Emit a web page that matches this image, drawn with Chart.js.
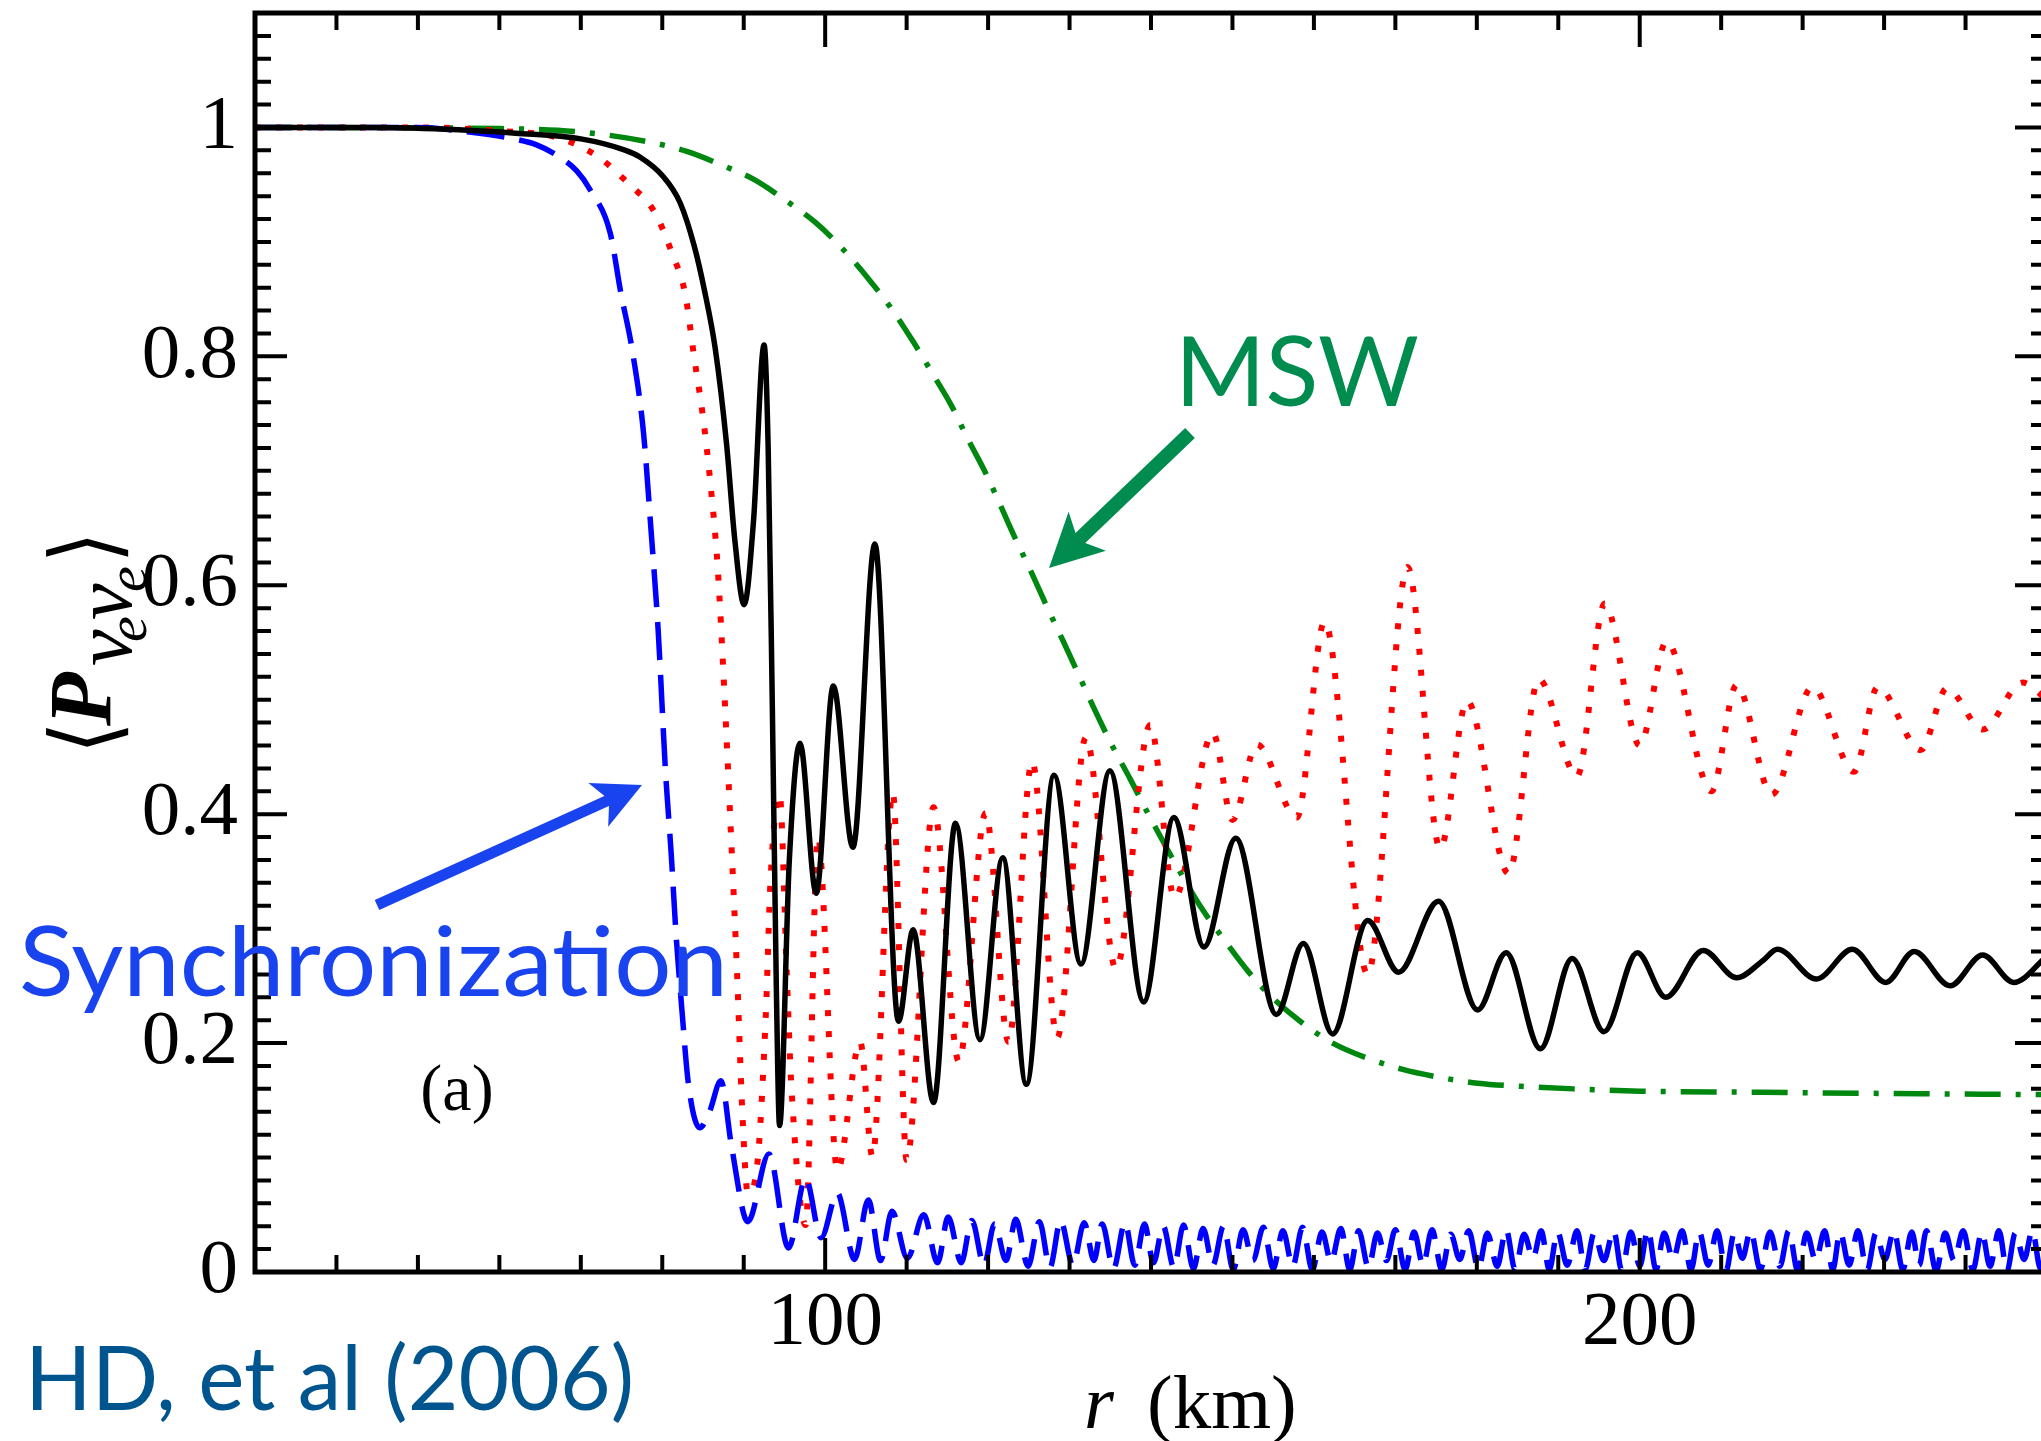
<!DOCTYPE html>
<html lang="en">

<head>
    <meta charset="UTF-8">
    <title>Survival probability vs radius</title>
    <script src="https://cdn.jsdelivr.net/npm/chart.js@4.4.1/dist/chart.umd.min.js"></script>
    <style>
        html, body { margin: 0; padding: 0; background: #fff; overflow: hidden; }
        #wrap { width: 2060px; height: 1441px; }
    </style>
</head>

<body>
    <div id="wrap"><canvas id="chart" width="2060" height="1441"></canvas></div>

    <script>
        // full calculation (black solid)
        var rFull = [30, 45, 55, 62, 70, 75.5, 77.3, 80.0, 82.2, 83.9, 85.2, 86.5, 87.9, 88.9, 90.05, 91.2, 92.5,
            93.0, 93.5, 94.0, 94.4, 95.6, 96.9, 98.9, 101.0, 103.4, 106.1, 109.0, 110.8, 113.3, 116.0, 119.0,
            121.8, 124.7, 128.1, 131.4, 134.95, 139.1, 142.8, 146.5, 150.4, 155.4, 158.7, 162.3, 166.6, 170.4,
            175.3, 180.1, 183.6, 187.8, 191.7, 195.6, 199.7, 203.2, 207.8, 211.9, 215.1, 216.9, 221.7, 226.1,
            230.2, 233.7, 238.1, 242.1, 245.9, 250];
        var pFull = [1.0, 1.0, 0.998, 0.995, 0.99, 0.98, 0.974, 0.958, 0.934, 0.897, 0.857, 0.807, 0.723, 0.640, 0.583, 0.656, 0.810,
            0.72, 0.50, 0.25, 0.128, 0.36, 0.462, 0.331, 0.512, 0.371, 0.636, 0.219, 0.299, 0.148, 0.392, 0.203,
            0.362, 0.164, 0.434, 0.269, 0.438, 0.236, 0.397, 0.284, 0.379, 0.225, 0.287, 0.208, 0.307, 0.262,
            0.324, 0.229, 0.279, 0.195, 0.274, 0.210, 0.279, 0.240, 0.281, 0.257, 0.272, 0.282, 0.256, 0.282,
            0.253, 0.280, 0.250, 0.277, 0.253, 0.276];

        // red dotted
        var rDot = [30, 50, 60, 67.2, 72.2, 76.6, 78.2, 79.5, 81.2, 82.8, 83.9, 85.0, 85.9, 86.8, 87.6, 88.5, 89.2, 89.8,
            90.5, 91.6, 92.7, 93.3, 94.4, 95.3, 95.8, 97.6, 99.1, 101.5, 104.3, 105.8, 108.3, 110.0, 113.3, 116.4,
            119.7, 122.5, 125.4, 128.5, 132.0, 135.7, 139.9, 142.9, 147.6, 150.0, 153.0, 157.9, 161.3, 166.6, 171.5,
            175.5, 178.8, 183.9, 187.6, 192.3, 195.7, 200.0, 203.3, 208.8, 211.9, 216.2, 221.2, 226.3, 229.2,
            234.5, 237.7, 242.1, 247.0, 250];
        var pDot = [1.0, 1.0, 0.997, 0.991, 0.974, 0.946, 0.935, 0.92, 0.89, 0.855, 0.80, 0.747, 0.690, 0.616, 0.510, 0.372, 0.258, 0.144,
            0.069, 0.09, 0.223, 0.344, 0.417, 0.258, 0.169, 0.041, 0.380, 0.089, 0.201, 0.101, 0.419, 0.098, 0.406, 0.184,
            0.401, 0.201, 0.446, 0.205, 0.467, 0.265, 0.478, 0.327, 0.471, 0.395, 0.461, 0.397, 0.568, 0.260, 0.616,
            0.370, 0.499, 0.348, 0.518, 0.433, 0.584, 0.460, 0.551, 0.420, 0.513, 0.417, 0.511, 0.437, 0.511,
            0.456, 0.510, 0.474, 0.515, 0.500];

        // synchronization (blue dashed)
        var rSync = [30, 50, 56.3, 61.8, 64.5, 67.2, 69.5, 71.1, 73.6, 74.9, 76.3, 77.7, 78.6, 79.5, 80.4, 81.1, 81.7,
            82.4, 83.2, 84.6, 85.8, 87.2, 88.5, 90.5, 93.1, 95.5, 97.6, 99.5,
            101.5, 103.6, 105.3, 106.8, 108.2, 110.1, 112.1, 113.8, 115.1, 116.7, 118.0, 119.5, 120.8, 122.2,
            123.4, 124.9, 126.3, 127.6, 128.9, 130.4, 131.8, 133.0, 134.0, 135.4, 136.8, 138.0, 139.2, 140.3,
            141.5, 142.8, 144.0, 145.2, 146.4, 147.6, 148.9, 150.1, 151.3, 152.5, 153.8, 155.0, 156.2, 157.4,
            158.6, 159.8, 161.0, 162.1, 163.3, 164.4, 165.5, 166.7, 167.8, 168.9, 170.0, 171.2, 172.3, 173.4,
            174.5, 175.7, 176.8, 177.9, 179.0, 180.2, 181.3, 182.5, 183.6, 184.7, 185.8, 186.9, 187.9, 188.9,
            189.9, 191.1, 192.3, 193.3, 194.4, 195.6, 196.8, 197.8, 198.9, 200.0, 201.0, 202.0, 203.0, 204.1,
            205.2, 206.3, 207.3, 208.4, 209.5, 210.6, 211.6, 212.6, 213.6, 214.8, 216.0, 217.2, 218.3, 219.4,
            220.5, 221.6, 222.7, 223.7, 224.6, 225.7, 226.8, 227.9, 229.0, 230.1, 231.2, 232.3, 233.4, 234.3,
            235.2, 236.4, 237.5, 238.6, 239.7, 240.9, 242.0, 243.0, 244.1, 245.1, 246.1, 247.2, 248.2, 249.2, 250];
        var pSync = [1.0, 1.0, 0.996, 0.99, 0.985, 0.975, 0.962, 0.946, 0.908, 0.856, 0.806, 0.733, 0.65, 0.560, 0.437, 0.365, 0.294,
            0.230, 0.165, 0.126, 0.14, 0.167, 0.11, 0.044, 0.103, 0.021, 0.082, 0.030,
            0.069, 0.011, 0.063, 0.010, 0.053, 0.012, 0.050, 0.008, 0.048, 0.008, 0.045, 0.006, 0.042, 0.010,
            0.046, 0.005, 0.044, 0.004, 0.045, 0.006, 0.043, 0.010, 0.042, 0.003, 0.043, 0.006, 0.042, 0.008,
            0.040, 0.004, 0.041, 0.003, 0.038, 0.006, 0.040, 0.002, 0.037, 0.010, 0.039, 0.003, 0.036, 0.005,
            0.039, 0.002, 0.035, 0.009, 0.038, 0.002, 0.036, 0.004, 0.034, 0.010, 0.037, 0.002, 0.035, 0.006,
            0.037, 0.002, 0.033, 0.011, 0.036, 0.003, 0.034, 0.005, 0.037, 0.002, 0.033, 0.012, 0.036, 0.002,
            0.035, 0.006, 0.036, 0.002, 0.034, 0.010, 0.036, 0.001, 0.035, 0.005, 0.037, 0.002, 0.034, 0.011,
            0.036, 0.002, 0.035, 0.006, 0.036, 0.001, 0.034, 0.012, 0.036, 0.002, 0.035, 0.005, 0.036, 0.001,
            0.034, 0.010, 0.036, 0.002, 0.035, 0.006, 0.036, 0.001, 0.034, 0.011, 0.036, 0.002, 0.035, 0.006,
            0.036, 0.001, 0.034, 0.010, 0.036, 0.002, 0.035, 0.005, 0.036, 0.001, 0.034, 0.011, 0.036, 0.003, 0.020];

        // MSW (green dash-dot)
        var rMsw = [30, 60, 70, 78.6, 83.0, 87, 91.4, 95, 98.8, 102, 105.4, 108, 110.7, 113, 115.5, 117.5, 119.7,
            121.5, 123.4, 125.4, 127.3, 129.3, 131.3, 133.3, 135.3, 137.5, 139.6, 141.8, 144.1, 146.2, 149.0,
            152, 155.0, 158.5, 162.3, 166.5, 170.9, 175.5, 180.1, 186, 191.9, 200, 215, 230, 250];
        var pMsw = [1.0, 0.999, 0.996, 0.987, 0.979, 0.968, 0.954, 0.937, 0.917, 0.895, 0.867, 0.843, 0.814, 0.787, 0.757, 0.728, 0.698,
            0.670, 0.640, 0.610, 0.580, 0.550, 0.519, 0.488, 0.459, 0.430, 0.401, 0.372, 0.343, 0.318, 0.290,
            0.262, 0.239, 0.218, 0.200, 0.187, 0.177, 0.170, 0.165, 0.162, 0.160, 0.158, 0.157, 0.156, 0.155];

        var xLabels = [100, 200];
        var yLabels = [0, 0.2, 0.4, 0.6, 0.8, 1];

        var serif = "'Liberation Serif', 'Times New Roman', serif";
        var sans = "Lato, 'Open Sans', sans-serif";
        var syncBlue = '#1a43f0';
        var mswGreen = '#008c4f';

        function toPoints(r, p) {
            return r.map(function (x, i) { return { x: x, y: p[i] }; });
        }

        // draws text squeezed/stretched to a given width
        function fitText(ctx, text, x, y, width, font, color) {
            ctx.font = font;
            var w = ctx.measureText(text).width;
            ctx.save();
            ctx.translate(x, y);
            ctx.scale(width / w, 1);
            ctx.fillStyle = color;
            ctx.textAlign = 'left';
            ctx.textBaseline = 'alphabetic';
            ctx.fillText(text, 0, 0);
            ctx.restore();
        }

        // draws a glyph stretched so its ink fills the box (x0,y0)-(x1,y1)
        function fitGlyph(ctx, text, font, x0, y0, x1, y1) {
            ctx.font = font;
            var m = ctx.measureText(text);
            var bw = m.actualBoundingBoxLeft + m.actualBoundingBoxRight;
            var bh = m.actualBoundingBoxAscent + m.actualBoundingBoxDescent;
            ctx.save();
            ctx.translate(x0, y0);
            ctx.scale((x1 - x0) / bw, (y1 - y0) / bh);
            ctx.fillText(text, m.actualBoundingBoxLeft, m.actualBoundingBoxAscent);
            ctx.restore();
        }

        // fat arrow with a notched head
        function drawArrow(ctx, x0, y0, x1, y1, shaftW, headLen, halfW, notch, color) {
            var dx = x1 - x0, dy = y1 - y0;
            var len = Math.sqrt(dx * dx + dy * dy);
            var ux = dx / len, uy = dy / len;
            var nx = -uy, ny = ux;
            ctx.save();
            ctx.strokeStyle = color;
            ctx.fillStyle = color;
            ctx.lineWidth = shaftW;
            ctx.beginPath();
            ctx.moveTo(x0, y0);
            ctx.lineTo(x1 - ux * (notch - 2), y1 - uy * (notch - 2));
            ctx.stroke();
            ctx.beginPath();
            ctx.moveTo(x1, y1);
            ctx.lineTo(x1 - ux * headLen + nx * halfW, y1 - uy * headLen + ny * halfW);
            ctx.lineTo(x1 - ux * notch, y1 - uy * notch);
            ctx.lineTo(x1 - ux * headLen - nx * halfW, y1 - uy * headLen - ny * halfW);
            ctx.closePath();
            ctx.fill();
            ctx.restore();
        }

        // closed frame with inward ticks on all four sides
        var framePlugin = {
            id: 'frame',
            afterDatasetsDraw: function (chart) {
                var ctx = chart.ctx, a = chart.chartArea;
                var x = chart.scales.x, y = chart.scales.y;
                ctx.save();
                ctx.strokeStyle = '#000';
                ctx.lineWidth = 4;
                ctx.beginPath();
                for (var v = 40; v < 250; v += 10) {
                    var px = x.getPixelForValue(v);
                    var len = v % 100 === 0 ? 34 : 17;
                    ctx.moveTo(px, a.bottom); ctx.lineTo(px, a.bottom - len);
                    ctx.moveTo(px, a.top); ctx.lineTo(px, a.top + len);
                }
                for (var k = 1; k < 55; k++) {
                    var py = y.getPixelForValue(k * 0.02);
                    var tl = k % 10 === 0 ? 32 : 16;
                    ctx.moveTo(a.left, py); ctx.lineTo(a.left + tl, py);
                    ctx.moveTo(a.right, py); ctx.lineTo(a.right - tl, py);
                }
                ctx.stroke();
                ctx.lineWidth = 5;
                ctx.strokeRect(a.left, a.top, a.right - a.left, a.bottom - a.top);
                ctx.restore();
            }
        };

        // axis titles, labels and arrows
        var notesPlugin = {
            id: 'notes',
            afterDraw: function (chart) {
                var ctx = chart.ctx;
                ctx.save();
                ctx.fillStyle = '#000';
                ctx.textBaseline = 'alphabetic';
                ctx.textAlign = 'left';

                // x title
                ctx.font = 'italic 77px ' + serif;
                ctx.fillText('r', 1084, 1428);
                ctx.font = '77px ' + serif;
                ctx.fillText('(km)', 1147, 1428);

                // panel tag
                ctx.font = '66px ' + serif;
                ctx.textAlign = 'center';
                ctx.fillText('(a)', 457, 1110);
                ctx.textAlign = 'left';

                // y title, rotated
                ctx.save();
                ctx.translate(0, 642);
                ctx.rotate(-Math.PI / 2);
                fitGlyph(ctx, '\u27E8', "90px 'DejaVu Serif', " + serif, -105, 45, -86, 128);
                ctx.font = 'italic bold 88px ' + serif;
                ctx.fillText('P', -84, 110);
                ctx.font = 'italic 82px ' + serif;
                ctx.fillText('\u03BD', -24, 131);
                ctx.fillText('\u03BD', 22, 131);
                ctx.font = 'italic 58px ' + serif;
                ctx.fillText('e', 0, 146);
                ctx.fillText('e', 50, 146);
                fitGlyph(ctx, '\u27E9', "90px 'DejaVu Serif', " + serif, 85, 45, 104, 128);
                ctx.restore();

                // annotations
                fitText(ctx, 'MSW', 1175, 406, 244, '97px ' + sans, mswGreen);
                drawArrow(ctx, 1190, 433, 1049, 568, 14, 53, 27, 40, mswGreen);
                fitText(ctx, 'Synchronization', 19, 996, 709, '96px ' + sans, syncBlue);
                drawArrow(ctx, 377, 905, 642, 785, 11, 48, 24, 36, syncBlue);
                fitText(ctx, 'HD, et al (2006)', 25, 1410, 609, '90px ' + sans, '#00558f');
                ctx.restore();
            }
        };

        var ctx = document.getElementById('chart').getContext('2d');
        var chart = new Chart(ctx, {
            type: 'line',
            data: {
                datasets: [{
                    label: 'full',
                    data: toPoints(rFull, pFull),
                    borderColor: '#000',
                    borderWidth: 5.5
                }, {
                    label: 'synchronization',
                    data: toPoints(rSync, pSync),
                    borderColor: '#0000ff',
                    borderWidth: 5.5,
                    borderDash: [38, 15],
                    clip: { left: 0, top: 0, right: 0, bottom: 6 }
                }, {
                    label: 'dotted',
                    data: toPoints(rDot, pDot),
                    borderColor: '#ff0000',
                    borderWidth: 6,
                    borderDash: [6, 15]
                }, {
                    label: 'MSW',
                    data: toPoints(rMsw, pMsw),
                    borderColor: '#00870f',
                    borderWidth: 5.5,
                    borderDash: [36, 15, 5, 15]
                }]
            },
            options: {
                responsive: false,
                animation: false,
                events: [],
                elements: {
                    point: { radius: 0 },
                    line: { cubicInterpolationMode: 'monotone', borderCapStyle: 'butt', fill: false }
                },
                layout: { padding: { top: 13, right: 13, left: 0, bottom: 0 } },
                plugins: {
                    legend: { display: false },
                    tooltip: { enabled: false }
                },
                scales: {
                    x: {
                        type: 'linear',
                        min: 30,
                        max: 250,
                        grid: { display: false, drawTicks: false },
                        border: { display: false },
                        ticks: { color: '#000', font: { family: serif, size: 77 }, padding: 6, maxRotation: 0,
                            callback: function (v) { return String(v); } },
                        afterBuildTicks: function (s) { s.ticks = xLabels.map(function (v) { return { value: v }; }); },
                        afterFit: function (s) {
                            s.height = 169;
                            s.paddingLeft = 0; s.paddingRight = 0;
                        }
                    },
                    y: {
                        min: 0,
                        max: 1.1,
                        grid: { display: false, drawTicks: false },
                        border: { display: false },
                        ticks: { color: '#000', font: { family: serif, size: 77 }, padding: 17,
                            callback: function (v) { return String(v); } },
                        afterBuildTicks: function (s) { s.ticks = yLabels.map(function (v) { return { value: v }; }); },
                        afterFit: function (s) {
                            s.width = 255;
                            s.paddingTop = 0; s.paddingBottom = 0;
                        }
                    }
                }
            },
            plugins: [framePlugin, notesPlugin]
        });
    </script>
</body>

</html>
